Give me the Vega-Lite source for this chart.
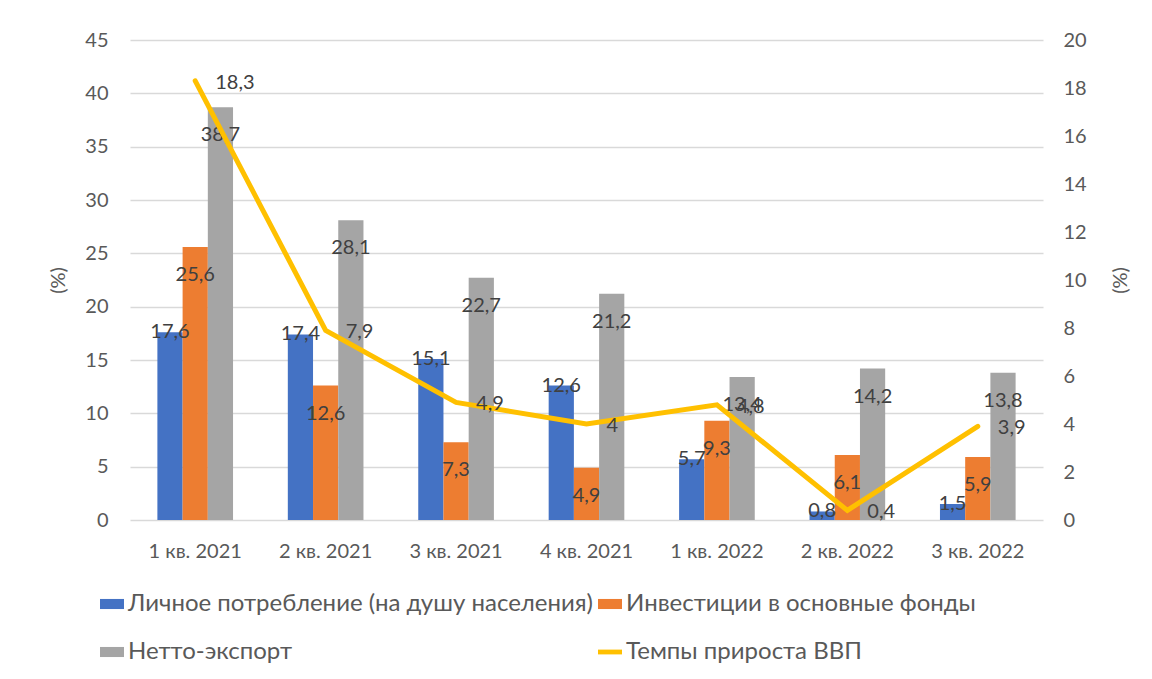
{
  "$schema": "https://vega.github.io/schema/vega-lite/v6.json",
  "autosize": {"type": "none"},
  "width": 913,
  "height": 480,
  "padding": {"left": 130, "top": 40, "right": 109, "bottom": 159},
  "background": "white",
  "config": {
    "locale": {"number": {"decimal": ",", "thousands": "\u00a0", "grouping": [3], "currency": ["", ""]}},
    "font": "Lato",
    "view": {"stroke": null},
    "axis": {"labelFont": "Lato", "titleFont": "Lato", "labelFontSize": 20, "labelColor": "#595959", "titleColor": "#595959", "titleFontSize": 20, "titleFontWeight": "normal"}
  },
  "data": {
    "values": [
      {"q": "1 кв. 2021", "series": "Личное потребление (на душу населения)", "value": 17.6},
      {"q": "2 кв. 2021", "series": "Личное потребление (на душу населения)", "value": 17.4},
      {"q": "3 кв. 2021", "series": "Личное потребление (на душу населения)", "value": 15.1},
      {"q": "4 кв. 2021", "series": "Личное потребление (на душу населения)", "value": 12.6},
      {"q": "1 кв. 2022", "series": "Личное потребление (на душу населения)", "value": 5.7},
      {"q": "2 кв. 2022", "series": "Личное потребление (на душу населения)", "value": 0.8},
      {"q": "3 кв. 2022", "series": "Личное потребление (на душу населения)", "value": 1.5},
      {"q": "1 кв. 2021", "series": "Инвестиции в основные фонды", "value": 25.6},
      {"q": "2 кв. 2021", "series": "Инвестиции в основные фонды", "value": 12.6},
      {"q": "3 кв. 2021", "series": "Инвестиции в основные фонды", "value": 7.3},
      {"q": "4 кв. 2021", "series": "Инвестиции в основные фонды", "value": 4.9},
      {"q": "1 кв. 2022", "series": "Инвестиции в основные фонды", "value": 9.3},
      {"q": "2 кв. 2022", "series": "Инвестиции в основные фонды", "value": 6.1},
      {"q": "3 кв. 2022", "series": "Инвестиции в основные фонды", "value": 5.9},
      {"q": "1 кв. 2021", "series": "Нетто-экспорт", "value": 38.7},
      {"q": "2 кв. 2021", "series": "Нетто-экспорт", "value": 28.1},
      {"q": "3 кв. 2021", "series": "Нетто-экспорт", "value": 22.7},
      {"q": "4 кв. 2021", "series": "Нетто-экспорт", "value": 21.2},
      {"q": "1 кв. 2022", "series": "Нетто-экспорт", "value": 13.4},
      {"q": "2 кв. 2022", "series": "Нетто-экспорт", "value": 14.2},
      {"q": "3 кв. 2022", "series": "Нетто-экспорт", "value": 13.8},
      {"q": "1 кв. 2021", "series": "Темпы прироста ВВП", "value": 18.3},
      {"q": "2 кв. 2021", "series": "Темпы прироста ВВП", "value": 7.9},
      {"q": "3 кв. 2021", "series": "Темпы прироста ВВП", "value": 4.9},
      {"q": "4 кв. 2021", "series": "Темпы прироста ВВП", "value": 4},
      {"q": "1 кв. 2022", "series": "Темпы прироста ВВП", "value": 4.8},
      {"q": "2 кв. 2022", "series": "Темпы прироста ВВП", "value": 0.4},
      {"q": "3 кв. 2022", "series": "Темпы прироста ВВП", "value": 3.9}
    ]
  },
  "encoding": {
    "x": {
      "field": "q", "type": "nominal", "sort": null, "title": null,
      "scale": {"paddingInner": 0.42, "paddingOuter": 0.21},
      "axis": {"labelAngle": 0, "ticks": false, "domain": false, "labelPadding": 21, "labelBaseline": "top"}
    }
  },
  "layer": [
    {
      "transform": [{"filter": "datum.series !== 'Темпы прироста ВВП'"}],
      "encoding": {
        "y": {
          "field": "value", "type": "quantitative", "title": "(%)",
          "scale": {"domain": [0, 45], "nice": false},
          "axis": {"values": [0, 5, 10, 15, 20, 25, 30, 35, 40, 45], "grid": true, "gridColor": "#D9D9D9", "gridWidth": 1.5, "domain": false, "ticks": false, "labelPadding": 22, "titlePadding": 16, "titleAngle": -90}
        },
        "xOffset": {
          "field": "series", "type": "nominal",
          "scale": {"domain": ["Личное потребление (на душу населения)", "Инвестиции в основные фонды", "Нетто-экспорт"], "paddingInner": 0, "paddingOuter": 0}
        }
      },
      "layer": [
        {
          "mark": {"type": "bar"},
          "encoding": {
            "color": {
              "field": "series", "type": "nominal",
              "scale": {
                "domain": ["Личное потребление (на душу населения)", "Инвестиции в основные фонды", "Нетто-экспорт", "Темпы прироста ВВП"],
                "range": ["#4472C4", "#ED7D31", "#A5A5A5", "#FFC000"]
              },
              "legend": {
                "title": null, "orient": "none", "legendX": -30, "legendY": 552,
                "direction": "horizontal", "columns": 2, "padding": 0,
                "labelFont": "Lato", "labelFontSize": 24, "labelColor": "#595959", "labelLimit": 0,
                "labelOffset": 4, "symbolSize": 576, "columnPadding": 5, "rowPadding": 24,
                "encode": {
                  "symbols": {
                    "update": {
                      "shape": {"signal": "datum.value === 'Темпы прироста ВВП' ? 'M-1,-0.2H1V0.2H-1Z' : 'M-1,-0.42H1V0.42H-1Z'"},
                      "fill": {"signal": "scale('color', datum.value)"},
                      "stroke": {"value": "transparent"},
                      "strokeWidth": {"value": 0},
                      "opacity": {"value": 1},
                      "fillOpacity": {"value": 1}
                    }
                  }
                }
              }
            }
          }
        },
        {
          "transform": [{"filter": "datum.series === 'Личное потребление (на душу населения)'"}],
          "mark": {"type": "text", "fontSize": 20, "color": "#404040", "baseline": "middle", "align": "center", "dy": 0},
          "encoding": {"text": {"field": "value", "type": "quantitative", "format": ".1~f"}}
        },
        {
          "transform": [{"filter": "datum.series !== 'Личное потребление (на душу населения)'"}],
          "mark": {"type": "text", "fontSize": 20, "color": "#404040", "baseline": "middle", "align": "center", "dy": 28},
          "encoding": {"text": {"field": "value", "type": "quantitative", "format": ".1~f"}}
        }
      ]
    },
    {
      "transform": [{"filter": "datum.series === 'Темпы прироста ВВП'"}],
      "encoding": {
        "y": {
          "field": "value", "type": "quantitative", "title": "(%)",
          "scale": {"domain": [0, 20], "nice": false},
          "axis": {"orient": "right", "values": [0, 2, 4, 6, 8, 10, 12, 14, 16, 18, 20], "grid": false, "domain": false, "ticks": false, "labelPadding": 20, "titlePadding": 44, "titleAngle": -90}
        }
      },
      "layer": [
        {
          "mark": {"type": "line", "strokeWidth": 5, "strokeCap": "round", "strokeJoin": "miter"},
          "encoding": {"color": {"field": "series", "type": "nominal"}}
        },
        {
          "mark": {"type": "text", "fontSize": 20, "color": "#404040", "baseline": "middle", "align": "left", "dx": 20, "dy": 2},
          "encoding": {"text": {"field": "value", "type": "quantitative", "format": ".1~f"}}
        }
      ]
    }
  ],
  "resolve": {"scale": {"y": "independent"}}
}
